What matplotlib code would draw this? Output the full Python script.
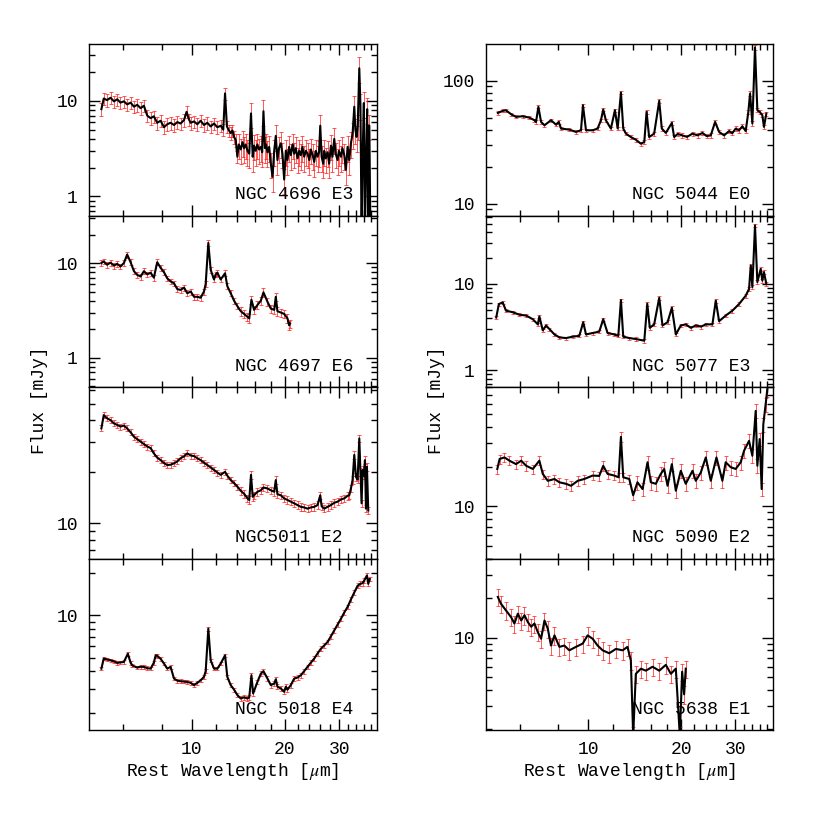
import numpy as np
import matplotlib
matplotlib.use('Agg')
import matplotlib.pyplot as plt
from matplotlib.ticker import FixedLocator, LogLocator, NullFormatter, FuncFormatter

plt.rcParams['font.family'] = ['Liberation Mono', 'DejaVu Sans Mono']
plt.rcParams['mathtext.fontset'] = 'stix'
plt.rcParams['font.size'] = 13

# ---- spectra (rest wavelength in micron, flux in mJy) ----
w4696 = [5.11, 5.20, 5.33, 5.47, 5.61, 5.75, 5.89, 6.04, 6.19, 6.35, 6.51, 6.67, 6.84, 7.01,
         7.19, 7.37, 7.55, 7.74, 7.94, 8.14, 8.34, 8.55, 8.77, 8.99, 9.21, 9.45, 9.63, 9.80,
         9.93, 10.18, 10.43, 10.69, 10.96, 11.24, 11.52, 11.81, 12.11, 12.41, 12.65, 12.82,
         13.00, 13.20, 13.37, 13.55, 13.71, 13.88, 14.05, 14.20, 14.41, 14.60, 14.77, 14.95,
         15.15, 15.35, 15.55, 15.75, 15.91, 16.10, 16.31, 16.50, 16.73, 16.90, 17.06, 17.25,
         17.40, 17.58, 17.80, 18.02, 18.25, 18.48, 18.70, 18.93, 19.15, 19.41, 19.65, 19.90,
         20.15, 20.40, 20.65, 20.91, 21.2, 21.44, 21.7, 21.98, 22.25, 22.53, 22.8, 23.09,
         23.4, 23.68, 24.0, 24.27, 24.6, 24.89, 25.2, 25.51, 25.8, 26.03, 26.3, 26.6, 26.81,
         27.1, 27.48, 27.8, 28.18, 28.5, 28.89, 29.2, 29.61, 29.9, 30.36, 30.7, 31.12, 31.5,
         31.90, 32.3, 32.70, 33.1, 33.53, 33.8, 34.1, 34.4, 34.80, 35.1, 35.4, 35.7, 36.0,
         36.3, 36.6, 36.9, 37.2, 37.5, 37.8]
f4696 = [8.2, 10.6, 10.2, 10.8, 9.9, 10.4, 9.6, 9.9, 9.2, 9.6, 8.7, 9.1, 8.4, 8.9,
         7.0, 6.6, 6.9, 5.9, 6.2, 5.3, 5.7, 5.9, 5.6, 6.0, 5.8, 6.3, 7.7, 6.4,
         5.9, 6.1, 5.7, 6.2, 5.6, 5.9, 5.4, 5.8, 5.3, 5.5, 5.0, 12.0,
         5.4, 4.9, 4.6, 4.9, 4.2, 3.9, 2.6, 3.5, 3.1, 3.7, 3.2, 3.5,
         3.0, 2.8, 7.4, 2.6, 3.4, 3.0, 3.5, 3.1, 3.3, 2.9, 7.8, 3.2,
         3.5, 2.9, 3.3, 2.2, 1.6, 3.0, 4.3, 2.4, 3.2, 3.6, 2.8, 1.5,
         3.0, 2.4, 3.3, 2.7, 3.5, 2.8, 3.2, 2.5, 3.0, 2.7, 3.3, 2.6,
         3.0, 2.8, 2.4, 3.1, 2.7, 2.3, 3.0, 2.6, 2.9, 5.5, 2.6, 2.2, 3.0,
         2.5, 2.9, 2.2, 3.4, 2.6, 4.0, 2.8, 2.4, 3.0, 2.6, 3.2, 2.7, 1.9,
         3.3, 2.4, 3.6, 4.5, 8.7, 5.0, 4.2, 5.5, 22.0, 9.0, 0.4, 3.0, 9.5,
         0.4, 2.5, 8.2, 0.4, 5.5, 0.4]

w4697 = [5.11, 5.20, 5.33, 5.47, 5.61, 5.75, 5.89, 6.04, 6.19, 6.35, 6.51, 6.67, 6.84, 7.01,
         7.19, 7.37, 7.55, 7.74, 7.94, 8.14, 8.34, 8.55, 8.77, 8.99, 9.21, 9.45, 9.68, 9.93,
         10.18, 10.43, 10.69, 10.96, 11.10, 11.32, 11.52, 11.81, 11.96, 12.11, 12.41, 12.82,
         13.04, 13.37, 13.71, 14.05, 14.41, 14.77, 15.15, 15.35, 15.60, 15.91, 16.31, 16.73,
         17.06, 17.58, 18.02, 18.48, 18.70, 18.93, 19.41, 19.90, 20.40, 20.65, 20.80]
f4697 = [10.0, 10.4, 9.6, 10.1, 9.4, 9.8, 9.2, 10.0, 12.3, 10.2, 8.2, 7.5, 7.2, 8.2,
         7.6, 7.9, 7.0, 10.2, 8.9, 8.0, 6.9, 6.4, 6.1, 5.3, 5.2, 5.5, 4.8, 5.0,
         4.4, 4.4, 4.3, 5.0, 6.0, 16.3, 8.5, 6.7, 7.6, 7.9, 6.7, 7.8,
         5.7, 4.8, 4.0, 3.5, 3.1, 2.9, 2.7, 2.6, 4.1, 3.2, 3.6, 4.0,
         4.9, 3.9, 3.3, 3.2, 4.4, 3.1, 3.0, 2.9, 2.6, 2.2, 2.3]

w5011 = [5.11, 5.20, 5.33, 5.47, 5.61, 5.75, 5.89, 6.04, 6.19, 6.35, 6.51, 6.67, 6.84, 7.01,
         7.19, 7.37, 7.55, 7.74, 7.94, 8.14, 8.34, 8.55, 8.77, 8.99, 9.21, 9.45, 9.68, 9.93,
         10.18, 10.43, 10.69, 10.96, 11.24, 11.52, 11.81, 12.11, 12.41, 12.82, 13.04, 13.37,
         13.71, 14.05, 14.41, 14.77, 15.15, 15.35, 15.55, 15.75, 15.91, 16.31, 16.73, 17.06,
         17.58, 18.02, 18.48, 18.70, 18.93, 19.41, 19.90, 20.40, 20.91, 21.44, 21.98, 22.53,
         23.09, 23.68, 24.27, 24.89, 25.51, 26.03, 26.3, 26.81, 27.48, 28.18, 28.89, 29.61,
         30.36, 31.12, 31.90, 32.3, 32.70, 33.1, 33.53, 33.94, 34.37, 34.80, 35.10, 35.4,
         35.67, 36.0, 36.3, 36.57, 36.84, 37.2]
f5011 = [35.8, 42.8, 41.0, 40.0, 38.3, 37.5, 36.7, 37.2, 35.8, 34.0, 32.0, 31.0, 30.0, 29.0,
         28.1, 27.5, 25.6, 24.2, 23.4, 22.5, 21.9, 22.0, 22.4, 23.0, 24.0, 24.6, 25.6, 24.9,
         24.7, 24.0, 23.4, 22.6, 21.9, 21.2, 20.5, 19.8, 19.2, 20.0, 19.0, 17.9,
         17.2, 16.4, 15.5, 14.9, 14.0, 13.7, 19.2, 14.3, 14.6, 15.3, 15.6, 16.2,
         16.0, 15.6, 15.3, 17.9, 14.8, 14.6, 14.0, 13.7, 13.4, 13.1, 12.8, 12.5,
         12.4, 12.2, 12.4, 12.5, 12.8, 14.6, 12.6, 12.2, 12.5, 12.8, 13.2, 13.4,
         13.8, 14.0, 14.5, 14.6, 16.0, 17.9, 25.1, 18.7, 18.0, 31.3, 20.0, 13.1,
         20.5, 19.0, 23.4, 12.2, 21.4, 11.9]

w5018 = [5.11, 5.20, 5.33, 5.47, 5.61, 5.75, 5.89, 6.04, 6.22, 6.35, 6.43, 6.67, 6.84, 7.01,
         7.19, 7.37, 7.55, 7.65, 7.74, 7.94, 8.14, 8.34, 8.55, 8.77, 8.99, 9.21, 9.45, 9.68,
         9.93, 10.18, 10.43, 10.69, 10.96, 11.10, 11.32, 11.52, 11.81, 12.11, 12.41, 12.82,
         13.04, 13.37, 13.71, 14.05, 14.41, 14.77, 15.15, 15.35, 15.60, 15.80, 16.31, 16.73,
         17.06, 17.58, 18.02, 18.48, 18.70, 18.93, 19.41, 19.90, 20.15, 20.40, 20.91, 21.44,
         21.98, 22.53, 23.09, 23.68, 24.27, 24.89, 25.51, 26.16, 26.81, 27.48, 28.18, 28.89,
         29.61, 30.36, 31.12, 31.90, 32.70, 33.53, 34.37, 35.06, 35.67, 36.12, 36.84, 37.2, 37.6]
f5018 = [4.17, 4.92, 4.85, 4.78, 4.70, 4.58, 4.62, 4.65, 5.33, 4.60, 4.40, 4.24, 4.30, 4.29,
         4.20, 4.17, 4.60, 5.19, 5.15, 4.90, 4.53, 4.17, 4.29, 3.54, 3.42, 3.39, 3.37, 3.35,
         3.30, 3.18, 3.30, 3.44, 3.64, 4.0, 8.04, 4.78, 4.17, 4.17, 4.53, 5.19,
         3.64, 3.18, 2.95, 2.70, 2.55, 2.60, 2.55, 2.60, 3.74, 2.77, 3.35, 3.84,
         4.0, 3.54, 3.18, 3.26, 3.50, 3.10, 3.01, 2.85, 3.10, 2.95, 3.18, 3.54,
         3.60, 3.74, 4.0, 4.29, 4.60, 4.92, 5.35, 5.79, 6.10, 6.46, 7.10, 7.82,
         8.60, 9.47, 10.5, 11.5, 13.0, 14.6, 16.3, 16.8, 17.0, 17.8, 19.3, 16.8, 18.2]

w5044 = [5.09, 5.28, 5.41, 5.62, 5.83, 6.13, 6.44, 6.69, 6.77, 6.89, 7.03, 7.21, 7.57, 7.86,
         8.02, 8.16, 8.68, 9.12, 9.47, 9.61, 9.83, 10.33, 10.72, 10.99, 11.18, 11.40, 11.84,
         12.20, 12.45, 12.76, 12.98, 13.24, 13.74, 14.26, 14.81, 15.19, 15.45, 15.75, 16.35,
         16.98, 17.31, 17.84, 18.66, 18.98, 19.5, 20.15, 20.9, 21.77, 22.6, 23.45, 24.2, 24.95,
         25.77, 26.55, 27.55, 28.6, 29.3, 30.05, 30.8, 31.58, 32.38, 33.03, 33.45, 34.03,
         34.71, 35.32, 35.94, 36.66, 37.11, 37.77]
f5044 = [54.8, 57.0, 57.5, 53.5, 50.9, 51.5, 50.2, 47.8, 46.3, 61.4, 46.3, 43.5, 47.8, 44.0,
         46.3, 40.9, 40.1, 38.4, 39.6, 63.3, 39.6, 39.6, 40.9, 47.8, 58.4, 47.8, 40.9,
         57.7, 41.0, 80.3, 41.0, 37.2, 34.9, 33.2, 30.8, 31.8, 55.9, 34.9, 37.2,
         68.7, 40.9, 37.7, 45.5, 34.9, 37.0, 36.0, 35.0, 37.2, 36.0, 37.7, 35.5, 36.0,
         46.3, 38.4, 36.0, 39.0, 37.5, 40.9, 39.5, 42.7, 39.0, 55.9, 78.8, 44.9,
         187.0, 57.7, 55.9, 52.5, 42.2, 54.1]

w5077 = [5.03, 5.13, 5.28, 5.41, 5.69, 5.98, 6.29, 6.61, 6.86, 6.94, 7.12, 7.30, 7.48, 7.77,
         8.06, 8.47, 8.90, 9.35, 9.63, 9.83, 10.33, 10.85, 11.18, 11.55, 12.14, 12.51, 12.76,
         12.98, 13.58, 14.26, 15.19, 15.53, 15.83, 16.35, 16.98, 17.40, 18.07, 18.66, 19.22,
         19.95, 20.70, 21.5, 22.31, 23.2, 24.04, 25.26, 25.90, 26.55, 27.89, 29.32, 30.81,
         32.38, 33.20, 33.62, 34.03, 34.71, 35.32, 36.21, 36.66, 37.11, 37.77]
f5077 = [4.09, 5.85, 6.1, 4.9, 4.7, 4.4, 4.3, 3.9, 3.4, 4.2, 2.9, 3.3, 3.0, 2.6,
         2.4, 2.36, 2.45, 2.5, 3.6, 2.6, 2.7, 2.8, 3.9, 2.7, 2.6, 2.5, 6.5,
         2.45, 2.36, 2.3, 2.2, 5.9, 3.1, 3.4, 6.9, 3.3, 3.6, 5.3, 2.6,
         3.3, 3.4, 3.1, 3.3, 3.2, 3.4, 3.4, 6.4, 3.7, 4.3, 4.9, 5.85,
         7.3, 8.75, 16.3, 9.2, 47.6, 10.5, 14.9, 10.9, 13.7, 10.0]

w5090 = [5.07, 5.16, 5.35, 5.55, 5.83, 6.06, 6.29, 6.61, 6.94, 7.12, 7.39, 7.77, 8.06, 8.47,
         8.79, 9.24, 9.70, 10.33, 10.85, 11.18, 11.55, 12.14, 12.54, 12.76, 12.98, 13.58,
         13.98, 14.43, 15.00, 15.56, 15.95, 16.55, 17.18, 17.62, 18.07, 18.66, 19.22, 19.95,
         20.70, 21.77, 22.31, 23.15, 24.04, 24.95, 26.03, 27.21, 27.89, 28.96, 30.05, 31.20,
         31.98, 33.20, 34.03, 34.89, 35.32, 35.94, 36.48, 36.93, 37.58, 38.05]
f5090 = [19.2, 22.9, 23.5, 22.2, 20.9, 22.2, 20.3, 19.2, 22.2, 17.6, 15.6, 16.1, 15.2, 14.8,
         14.3, 15.6, 16.1, 17.1, 17.0, 20.3, 17.6, 17.1, 16.6, 33.7, 16.6, 16.1,
         12.1, 15.2, 13.5, 21.6, 15.2, 14.8, 17.6, 19.2, 14.3, 20.9, 13.1, 18.6,
         14.8, 18.6, 15.6, 18.0, 23.5, 15.6, 23.5, 15.6, 21.6, 19.8, 19.2, 21.6,
         26.4, 31.4, 24.2, 53.1, 20.3, 32.4, 13.5, 42.0, 59.7, 77.6]

w5638 = [5.09, 5.21, 5.41, 5.62, 5.76, 5.91, 6.06, 6.21, 6.37, 6.53, 6.69, 6.86, 7.03, 7.21,
         7.39, 7.57, 7.77, 8.06, 8.36, 8.68, 9.12, 9.59, 9.95, 10.33, 10.72, 11.13, 11.69,
         12.29, 12.92, 13.40, 13.74, 13.98, 14.26, 14.81, 15.37, 16.15, 16.98, 17.84, 18.52,
         19.22, 19.80, 20.15, 20.45, 20.70]
f5638 = [20.4, 18.1, 16.1, 14.3, 12.8, 15.2, 13.5, 14.8, 13.1, 12.1, 12.8, 11.0, 9.8, 13.5,
         11.7, 8.7, 10.4, 8.5, 8.7, 8.0, 8.5, 9.0, 10.4, 9.8, 8.7, 8.0, 7.6,
         8.2, 8.0, 8.5, 6.7, 1.8, 5.3, 5.8, 5.6, 6.0, 5.6, 6.2, 5.3,
         5.8, 1.8, 5.5, 3.7, 5.8]

labels = ['NGC 4696 E3', 'NGC 4697 E6', 'NGC5011 E2', 'NGC 5018 E4',
          'NGC 5044 E0', 'NGC 5077 E3', 'NGC 5090 E2', 'NGC 5638 E1']
waves = [w4696, w4697, w5011, w5018, w5044, w5077, w5090, w5638]
fluxes = [f4696, f4697, f5011, f5018, f5044, f5077, f5090, f5638]
# fractional errors (short-low, long-low module)
err_sl = [0.15, 0.07, 0.04, 0.03, 0.03, 0.04, 0.08, 0.15]
err_ll = [0.30, 0.10, 0.05, 0.04, 0.04, 0.05, 0.12, 0.15]
ylims = [(0.63, 39.5), (0.49, 31.8), (6.25, 62.4), (1.52, 25.5),
         (8.04, 199.0), (0.64, 62.0), (4.0, 80.7), (1.98, 40.0)]

fig = plt.figure(figsize=(8.17, 8.17), dpi=100)

col_x = [89/817, 486/817]
col_w = [288/817, 287/817]
row_h = 171.5/817
top = 1 - 44/817

for k in range(8):
    col = k // 4
    row = k % 4
    ax = fig.add_axes([col_x[col], top - (row+1)*row_h, col_w[col], row_h])
    w = np.array(waves[k])
    f = np.array(fluxes[k])
    frac = np.where(w < 14.2, err_sl[k], err_ll[k])
    ax.errorbar(w, f, yerr=frac*f, fmt='none', ecolor='#ff2020', elinewidth=0.7,
                capsize=1.5, capthick=0.7, alpha=0.75, zorder=2)
    ax.plot(w, f, color='black', lw=1.5, zorder=3)
    ax.set_xscale('log')
    ax.set_yscale('log')
    ax.set_xlim(4.66, 39.7)
    ax.set_ylim(*ylims[k])
    ax.xaxis.set_major_locator(FixedLocator([10, 20, 30]))
    ax.xaxis.set_minor_locator(FixedLocator([6, 8, 12, 14, 16, 18, 22, 24, 26, 28,
                                             32, 34, 36, 38]))
    ax.xaxis.set_minor_formatter(NullFormatter())
    ax.yaxis.set_major_locator(LogLocator(base=10))
    ax.yaxis.set_minor_locator(LogLocator(base=10, subs=np.arange(2, 10)))
    ax.yaxis.set_minor_formatter(NullFormatter())
    ax.yaxis.set_major_formatter(FuncFormatter(lambda v, p: '%g' % v))
    if row == 3:
        ax.xaxis.set_major_formatter(FuncFormatter(lambda v, p: '%g' % v))
    else:
        ax.xaxis.set_major_formatter(NullFormatter())
    ax.tick_params(which='both', direction='in', top=True, right=True, width=1.0)
    ax.tick_params(which='major', length=8, pad=8, labelsize=13)
    ax.tick_params(which='minor', length=4.3)
    for s in ax.spines.values():
        s.set_linewidth(1.0)
    ax.text(0.507, 0.07, labels[k], transform=ax.transAxes, fontsize=13,
            ha='left', va='bottom')

for xc in [40/817, 437/817]:
    fig.text(xc, 1 - 400/817, 'Flux [mJy]', rotation=90, ha='center', va='center',
             fontsize=13)
for xc in [233/817, 630/817]:
    fig.text(xc, 1 - 771/817, r'Rest Wavelength [$\mu$m]', ha='center', va='center',
             fontsize=13)

fig.savefig('out.png', dpi=100)
